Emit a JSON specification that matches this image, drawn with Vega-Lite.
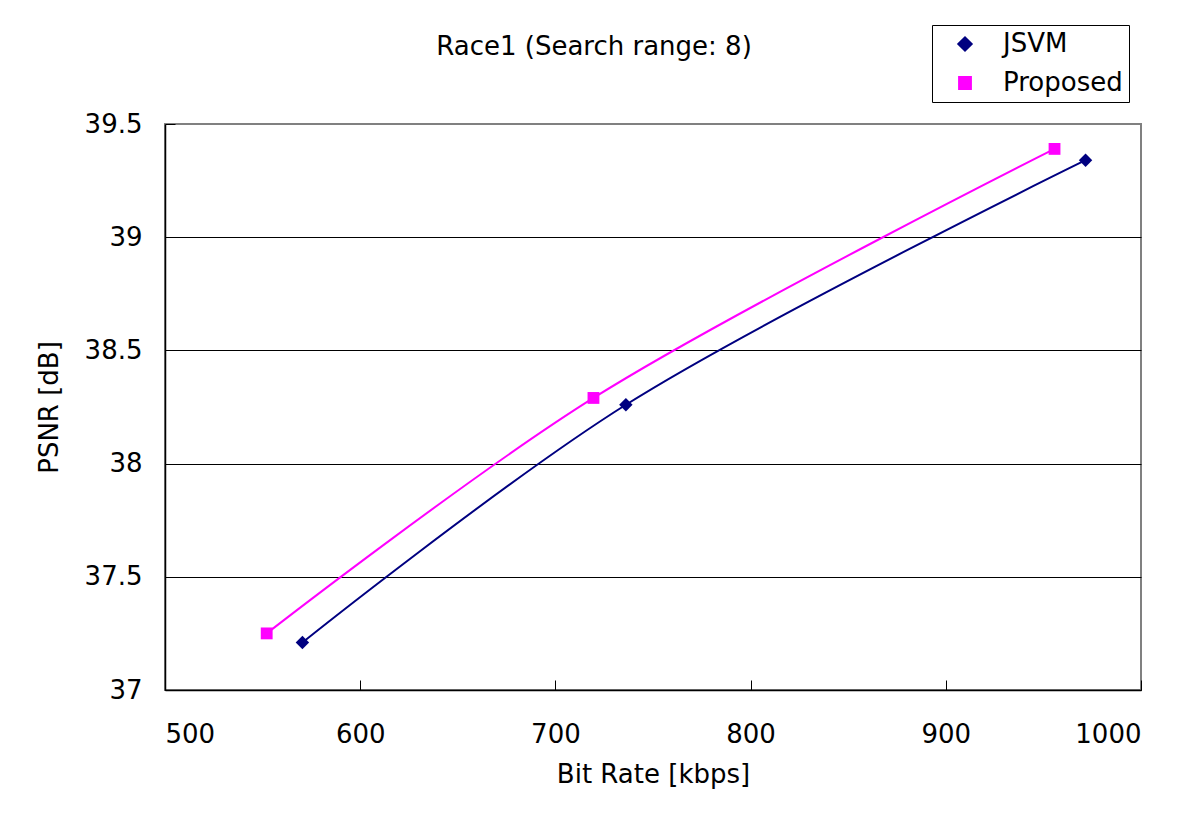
{
  "$schema": "https://vega.github.io/schema/vega-lite/v6.json",
  "width": 976,
  "height": 566,
  "padding": {"left": 36, "top": 24, "right": 10, "bottom": 10},
  "background": "white",
  "config": {
    "font": "DejaVu Sans",
    "view": {"stroke": "#808080", "strokeWidth": 2},
    "axis": {
      "domainColor": "black",
      "domainWidth": 1.5,
      "tickColor": "black",
      "tickSize": -10,
      "labelColor": "black",
      "labelFontSize": 26,
      "titleColor": "black",
      "titleFontSize": 26,
      "titleFontWeight": "normal"
    }
  },
  "title": {
    "text": "Race1 (Search range: 8)",
    "fontSize": 26,
    "fontWeight": "normal",
    "color": "black",
    "anchor": "middle",
    "dx": -59,
    "offset": -35
  },
  "data": {
    "values": [
      {"series": "JSVM", "rate": 570.4, "psnr": 37.21},
      {"series": "JSVM", "rate": 736.1, "psnr": 38.26},
      {"series": "JSVM", "rate": 971.6, "psnr": 39.34},
      {"series": "Proposed", "rate": 552.1, "psnr": 37.25},
      {"series": "Proposed", "rate": 719.5, "psnr": 38.29},
      {"series": "Proposed", "rate": 955.7, "psnr": 39.39}
    ]
  },
  "encoding": {
    "x": {
      "field": "rate",
      "type": "quantitative",
      "scale": {"domain": [500, 1000], "nice": false, "zero": false},
      "axis": {
        "title": "Bit Rate [kbps]",
        "values": [500, 600, 700, 800, 900, 1000],
        "format": "d",
        "grid": false,
        "labelPadding": 41,
        "titlePadding": 14
      }
    },
    "y": {
      "field": "psnr",
      "type": "quantitative",
      "scale": {"domain": [37, 39.5], "nice": false, "zero": false},
      "axis": {
        "title": "PSNR [dB]",
        "values": [37, 37.5, 38, 38.5, 39, 39.5],
        "format": "~g",
        "grid": true,
        "gridColor": {"condition": {"test": "datum.value === 39.5", "value": "#808080"}, "value": "black"},
        "gridOpacity": 1,
        "gridWidth": 1,
        "labelPadding": 33,
        "titlePadding": 22
      }
    }
  },
  "layer": [
    {
      "mark": {"type": "line", "interpolate": "catmull-rom", "strokeWidth": 2},
      "encoding": {
        "color": {
          "field": "series",
          "type": "nominal",
          "scale": {"domain": ["JSVM", "Proposed"], "range": ["#000080", "#FF00FF"]},
          "legend": {
            "title": null,
            "orient": "none",
            "legendX": 767,
            "legendY": -99,
            "strokeColor": "black",
            "fillColor": "white",
            "padding": 6,
            "rowPadding": 13,
            "symbolSize": 676,
            "symbolOffset": 14,
            "symbolStrokeWidth": 2,
            "labelFontSize": 26,
            "labelColor": "black",
            "labelOffset": 25,
            "encode": {
              "symbols": {
                "update": {
                  "shape": {"condition": {"test": "datum.value === 'JSVM'", "value": "M-1.69,0H1.69M0,-0.54L0.54,0L0,0.54L-0.54,0Z"}, "value": "M-1.69,0H1.69M-0.5,-0.5H0.5V0.5H-0.5Z"},
                  "fill": {"condition": {"test": "datum.value === 'JSVM'", "value": "#000080"}, "value": "#FF00FF"},
                  "stroke": {"condition": {"test": "datum.value === 'JSVM'", "value": "#000080"}, "value": "#FF00FF"},
                  "strokeWidth": {"value": 2}
                }
              }
            }
          }
        }
      }
    },
    {
      "mark": {"type": "point", "filled": true, "opacity": 1},
      "encoding": {
        "color": {
          "field": "series",
          "type": "nominal",
          "scale": {"domain": ["JSVM", "Proposed"], "range": ["#000080", "#FF00FF"]},
          "legend": null
        },
        "shape": {
          "field": "series",
          "type": "nominal",
          "scale": {"domain": ["JSVM", "Proposed"], "range": ["diamond", "square"]},
          "legend": null
        },
        "size": {
          "field": "series",
          "type": "nominal",
          "scale": {"domain": ["JSVM", "Proposed"], "range": [180, 140]},
          "legend": null
        }
      }
    }
  ]
}
